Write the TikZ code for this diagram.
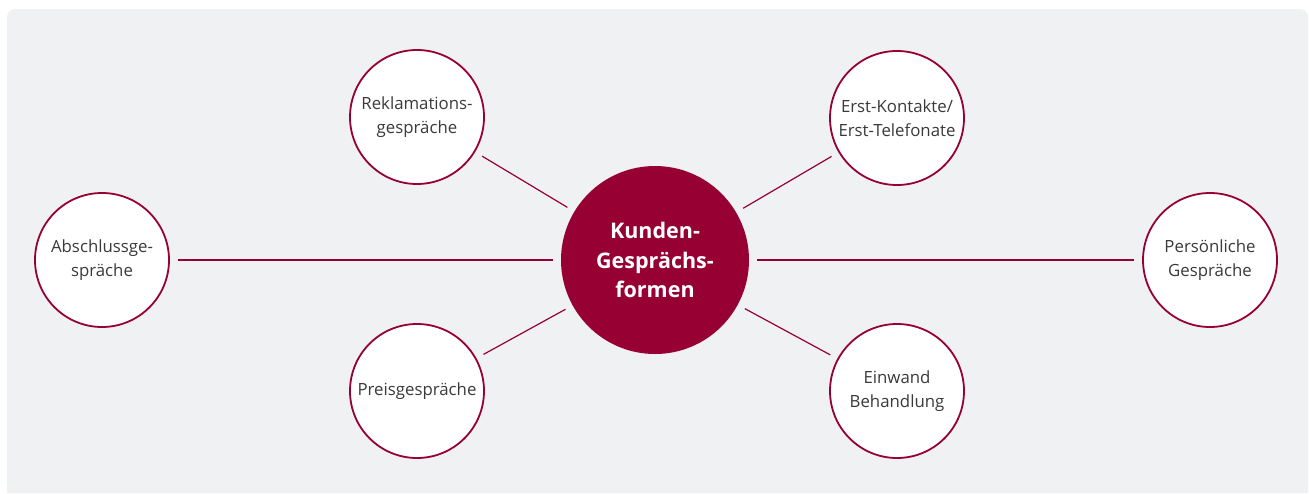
\documentclass[tikz,border=0pt]{standalone}
\usepackage{fontspec}
\setmainfont{Open Sans}
\definecolor{crimson}{HTML}{960032}
\definecolor{bggray}{HTML}{F0F1F3}
\definecolor{txtgray}{HTML}{3A3A3A}
\begin{document}
\begin{tikzpicture}[x=1pt,y=-1pt,
  topic/.style={circle, draw=crimson, line width=1.8pt, fill=white, minimum size=134pt, inner sep=0pt,
    align=center, text=txtgray, font=\fontsize{16.8}{23.5}\selectfont},
  hub/.style={circle, fill=crimson, minimum size=188pt, inner sep=0pt, align=center, text=white,
    font=\fontsize{21.5}{29.5}\selectfont\bfseries},
  link/.style={draw=crimson, line width=1.2pt, shorten <=8pt, shorten >=8pt}]
\useasboundingbox (0,0) rectangle (1309,493);
\fill[bggray] (7,493) {[rounded corners=8pt] -- (7,9) -- (1308,9)} -- (1308,493) -- cycle;
\node[hub] (c) at (655,260) {Kunden-\\Gesprächs-\\formen};
\node[topic] (rek) at (417,117) {Reklamations-\\gespräche};
\node[topic] (erst) at (897,118) {Erst-Kontakte/\\Erst-Telefonate};
\node[topic] (abs) at (102,260) {Abschlussge-\\spräche};
\node[topic] (pers) at (1210,260) {Persönliche\\Gespräche};
\node[topic] (preis) at (417,391) {Preisgespräche};
\node[topic] (ein) at (897,391) {Einwand\\Behandlung};
\draw[link] (rek) -- (c);
\draw[link] (erst) -- (c);
\draw[link] (abs) -- (c);
\draw[link] (pers) -- (c);
\draw[link] (preis) -- (c);
\draw[link] (ein) -- (c);
\end{tikzpicture}
\end{document}
